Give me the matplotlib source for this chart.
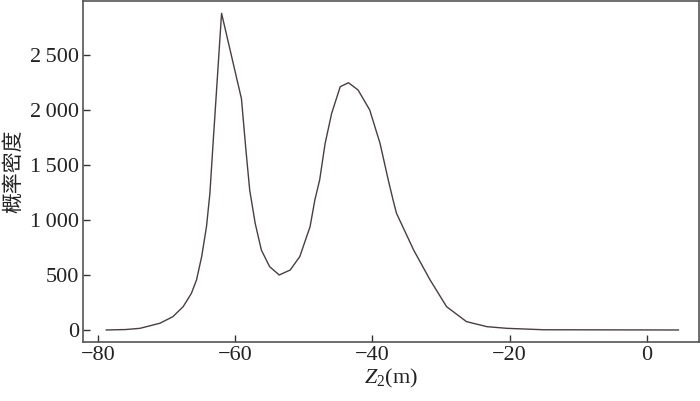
import numpy as np
import matplotlib
matplotlib.use("Agg")
import matplotlib.pyplot as plt
from matplotlib.ticker import FuncFormatter

# density curve
z2 = [-78.8, -76.0, -73.9, -71.0, -69.1, -67.6, -66.4, -65.65, -64.9, -64.2,
      -63.7, -63.3, -62.0, -59.1, -58.45, -57.9, -57.1, -56.2, -55.0, -53.6,
      -52.0, -50.6, -49.1, -48.4, -47.7, -46.9, -45.95, -44.7, -43.5, -42.1,
      -40.4, -38.9, -37.7, -37.0, -36.5, -34.0, -31.6, -29.2, -26.3, -23.3,
      -20.4, -15.0, 4.6]
density = [0, 4, 15, 61, 121, 212, 333, 455, 667, 939,
           1242, 1636, 2879, 2102, 1636, 1273, 970, 727, 576, 500,
           545, 667, 939, 1182, 1364, 1697, 1970, 2212, 2248, 2182,
           2000, 1697, 1364, 1182, 1061, 727, 455, 212, 76, 30,
           15, 2, 0]

xticks = [-80, -60, -40, -20, 0]
yticks = [0, 500, 1000, 1500, 2000, 2500]

plt.rcParams['font.family'] = ['Liberation Serif', 'Noto Sans CJK SC']
plt.rcParams['mathtext.fontset'] = 'custom'
plt.rcParams['mathtext.it'] = 'Liberation Serif:italic'
plt.rcParams['mathtext.rm'] = 'Liberation Serif'

fig = plt.figure(figsize=(7, 4.01), dpi=100)
ax = fig.add_axes([83/700, (401-342.3)/401, (699-83)/700, (342.3-1)/401])

ax.plot(z2, density, color='#4a3e3e', lw=1.0)

ax.set_xlim(-82.2, 7.6)
ax.set_ylim(-112, 2991)
ax.set_xticks(xticks)
ax.set_yticks(yticks)

def fmt_y(v, pos):
  s = "%d" % v
  if len(s) > 3:
    s = s[:-3] + "\u2009" + s[-3:]
  return s

ax.yaxis.set_major_formatter(FuncFormatter(fmt_y))
ax.xaxis.set_major_formatter(FuncFormatter(lambda v, p: ("\u2212%d" % -v) if v < 0 else "%d" % v))

ax.tick_params(direction='in', length=5, width=1, colors='#333333',
               labelsize=16, labelcolor='#222222', pad=3)
for sp in ax.spines.values():
  sp.set_color('#555555')
  sp.set_linewidth(1.2)

ax.set_xlabel(r"$Z_2$(m)", fontsize=16, color='#222222', labelpad=1)
ax.set_ylabel("概率密度", fontsize=15, color='#222222',
              family=['Noto Sans CJK SC'], labelpad=4)

fig.savefig("out.png", dpi=100)
